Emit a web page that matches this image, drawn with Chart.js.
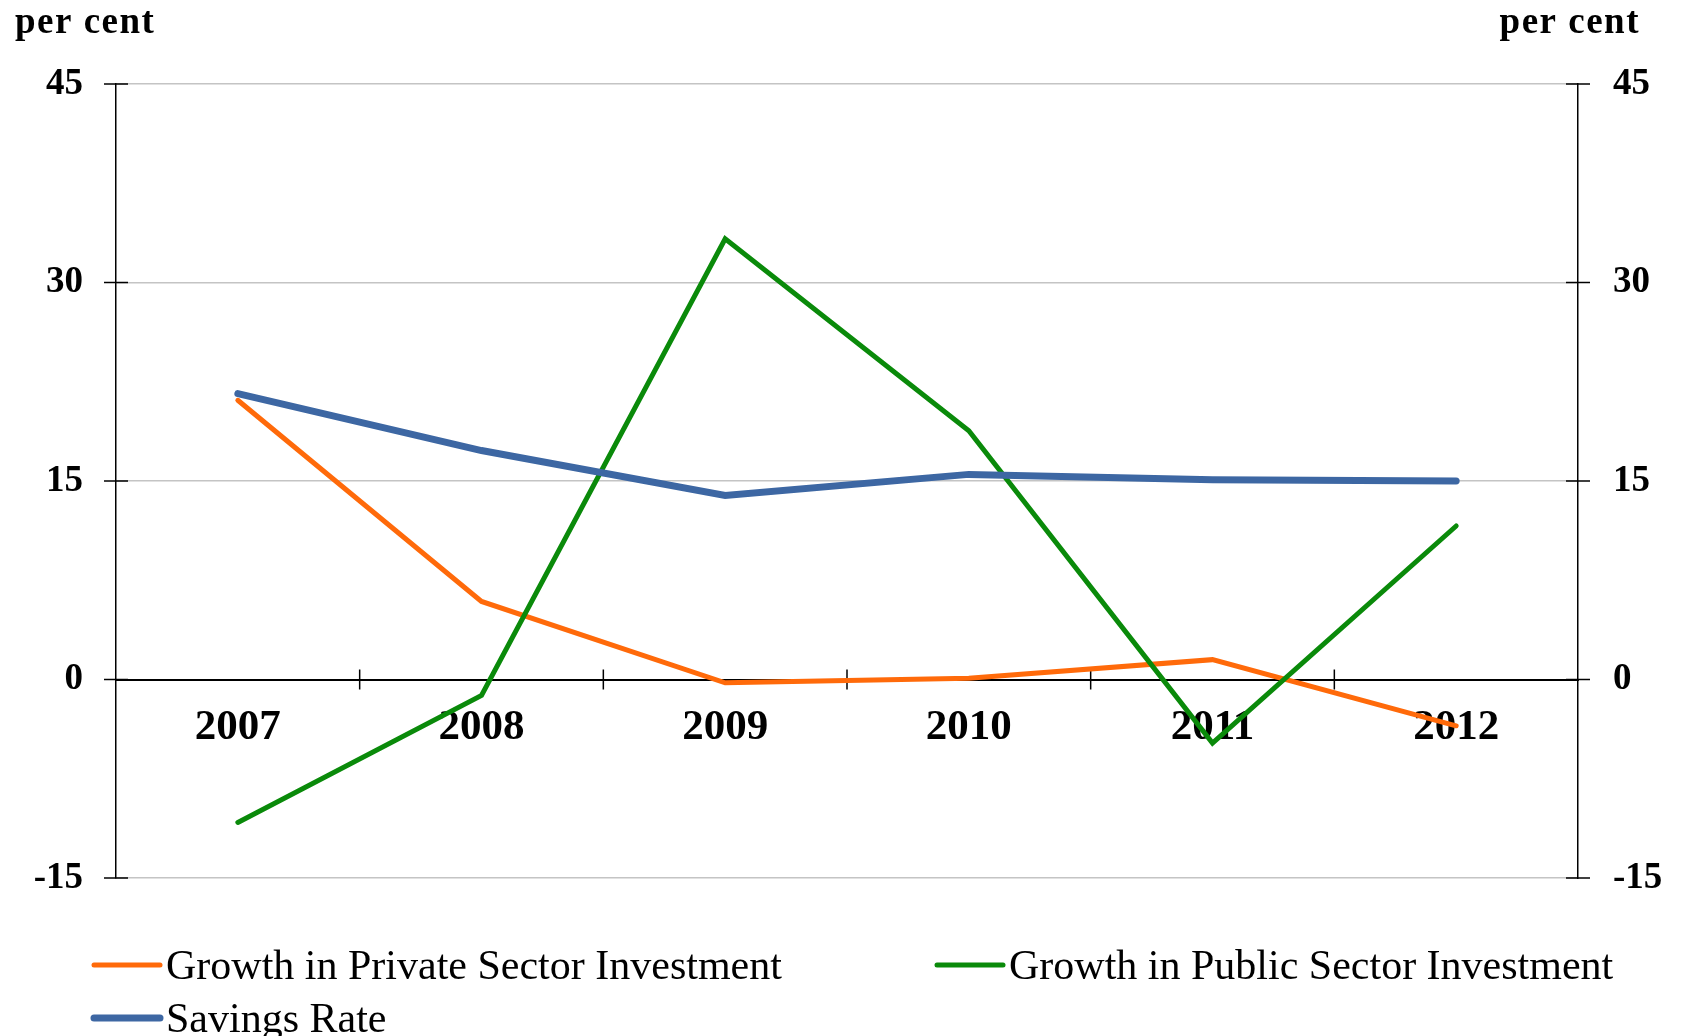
<!DOCTYPE html>
<html>
<head>
<meta charset="utf-8">
<script src="https://cdn.jsdelivr.net/npm/chart.js@4.4.1/dist/chart.umd.min.js"></script>
<style>
    html, body { margin: 0; padding: 0; background: #ffffff; }
    #wrap { position: relative; width: 1683px; height: 1036px; }
</style>
</head>
<body>
<div id="wrap"><canvas id="chart"></canvas></div>
<script>
// Chart data.
const years = ["2007", "2008", "2009", "2010", "2011", "2012"];
const privateInvestment = [21.1, 5.9, -0.25, 0.1, 1.5, -3.5];
const publicInvestment = [-10.8, -1.2, 33.3, 18.8, -4.8, 11.6];
const savingsRate = [21.6, 17.3, 13.9, 15.5, 15.1, 15.0];
const yTicks = [-15, 0, 15, 30, 45];

const SERIF = "'Liberation Serif', 'Times New Roman', serif";

/**
 * Tick marks that cross the axes, as in the original spreadsheet chart.
 */
const crossTicks = {
    id: "crossTicks",
    beforeDatasetsDraw(chart) {
        const {ctx, chartArea, scales} = chart;
        ctx.save();
        ctx.strokeStyle = "#000000";
        ctx.lineWidth = 1.5;

        [["y", chartArea.left], ["y2", chartArea.right]].forEach(([id, x]) => {
            const scale = scales[id];
            scale.ticks.forEach((t, i) => {
                const py = scale.getPixelForTick(i);
                ctx.beginPath();
                ctx.moveTo(x - 12, py);
                ctx.lineTo(x + 12, py);
                ctx.stroke();
            });
        });

        const xs = scales.x;
        const y0 = scales.y.getPixelForValue(0);
        for (let i = 1; i < years.length; i++) {
            const px = (xs.getPixelForValue(i - 1) + xs.getPixelForValue(i)) / 2;
            ctx.beginPath();
            ctx.moveTo(px, y0 - 10);
            ctx.lineTo(px, y0 + 10);
            ctx.stroke();
        }
        ctx.restore();
    }
};

/**
 * "per cent" captions and the legend, laid out like the reference.
 */
const captionsAndLegend = {
    id: "captionsAndLegend",
    afterDraw(chart) {
        const {ctx} = chart;
        ctx.save();

        // Axis captions.
        ctx.fillStyle = "#000000";
        ctx.font = "bold 37px " + SERIF;
        ctx.letterSpacing = "1.5px";
        ctx.textBaseline = "alphabetic";
        ctx.textAlign = "left";
        ctx.fillText("per cent", 15, 33);
        ctx.textAlign = "right";
        ctx.fillText("per cent", 1640, 33);

        // Legend.
        const slots = [
            {x: 94, y: 965},
            {x: 937, y: 965},
            {x: 94, y: 1018}
        ];
        ctx.font = "42px " + SERIF;
        ctx.letterSpacing = "0px";
        ctx.textAlign = "left";
        chart.data.datasets.forEach((ds, i) => {
            const s = slots[i];
            ctx.strokeStyle = ds.borderColor;
            ctx.lineWidth = ds.borderWidth;
            ctx.lineCap = "round";
            ctx.beginPath();
            ctx.moveTo(s.x, s.y);
            ctx.lineTo(s.x + 66, s.y);
            ctx.stroke();
            ctx.fillStyle = "#000000";
            ctx.fillText(ds.label, s.x + 72, s.y + 14);
        });
        ctx.restore();
    }
};

function loadChart() {
    const ctx = document.querySelector("#chart").getContext("2d");

    new Chart(ctx, {
        type: "line",
        data: {
            labels: years,
            datasets: [{
                label: "Growth in Private Sector Investment",
                data: privateInvestment,
                borderColor: "#ff6a0a",
                borderWidth: 5,
                order: 2
            }, {
                label: "Growth in Public Sector Investment",
                data: publicInvestment,
                borderColor: "#0a8a0a",
                borderWidth: 5,
                order: 1
            }, {
                label: "Savings Rate",
                data: savingsRate,
                borderColor: "#3d67a3",
                borderWidth: 7,
                order: 0
            }]
        },
        options: {
            responsive: false,
            animation: false,
            elements: {
                point: { radius: 0, hoverRadius: 0 },
                line: { tension: 0, borderCapStyle: "round", borderJoinStyle: "miter" }
            },
            layout: {
                padding: { left: 0, right: 0, top: 84, bottom: 158 }
            },
            plugins: {
                legend: { display: false },
                tooltip: { enabled: false }
            },
            scales: {
                x: {
                    type: "category",
                    offset: true,
                    position: { y: 0 },
                    grid: { display: true, drawOnChartArea: false, drawTicks: false, offset: true },
                    border: { display: true, color: "#000000", width: 2 },
                    ticks: {
                        color: "#000000",
                        padding: 23,
                        maxRotation: 0,
                        font: { family: SERIF, size: 43, weight: "bold" }
                    }
                },
                y: {
                    position: "left",
                    min: -15,
                    max: 45,
                    afterBuildTicks: scale => { scale.ticks = yTicks.map(v => ({value: v})); },
                    afterFit: scale => { scale.width = 116; },
                    grid: {
                        drawTicks: false,
                        color: c => c.tick && c.tick.value === 0 ? "rgba(0,0,0,0)" : "#c4c4c4",
                        lineWidth: 1.5
                    },
                    border: { display: true, color: "#000000", width: 1.5 },
                    ticks: {
                        color: "#000000",
                        padding: 33,
                        font: { family: SERIF, size: 37, weight: "bold" }
                    }
                },
                y2: {
                    position: "right",
                    min: -15,
                    max: 45,
                    afterBuildTicks: scale => { scale.ticks = yTicks.map(v => ({value: v})); },
                    afterFit: scale => { scale.width = 105; },
                    grid: { drawOnChartArea: false, drawTicks: false },
                    border: { display: true, color: "#000000", width: 1.5 },
                    ticks: {
                        color: "#000000",
                        padding: 35,
                        font: { family: SERIF, size: 37, weight: "bold" }
                    }
                }
            }
        },
        plugins: [crossTicks, captionsAndLegend]
    });
}

const canvas = document.querySelector("#chart");
canvas.width = 1683;
canvas.height = 1036;
canvas.style.width = "1683px";
canvas.style.height = "1036px";
loadChart();
</script>
</body>
</html>
